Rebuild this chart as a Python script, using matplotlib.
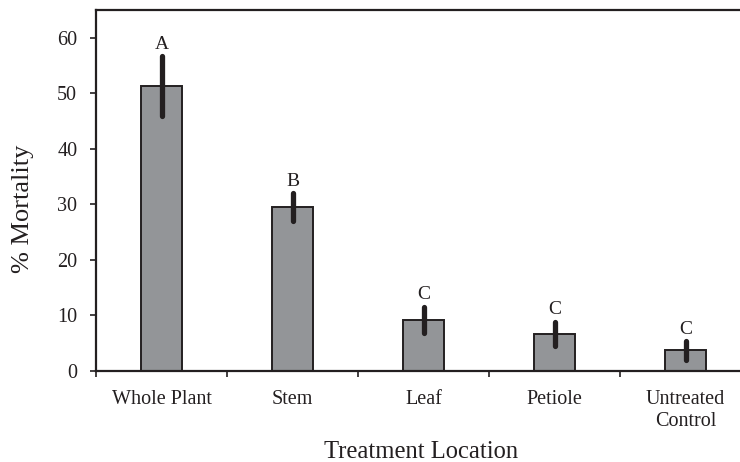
import matplotlib
matplotlib.use("Agg")
import matplotlib.pyplot as plt
import numpy as np

categories = ["Whole Plant", "Stem", "Leaf", "Petiole", "Untreated\nControl"]
mortality = [51.3, 29.5, 9.2, 6.7, 3.7]
errors = [5.4, 2.5, 2.4, 2.2, 1.7]
letters = ["A", "B", "C", "C", "C"]

plt.rcParams['font.family'] = ['Liberation Serif', 'DejaVu Serif']

fig = plt.figure(figsize=(7.4, 4.62), dpi=100)
W, H = 740, 462
left, right, top, bottom = 96, 740, 10, 371
ax = fig.add_axes([left / W, 1 - bottom / H, (right - left) / W, (bottom - top) / H])

x = np.arange(len(categories))
ax.bar(x, mortality, width=0.315, color="#939598", edgecolor="#231f20", linewidth=1.4, zorder=2)
eb = ax.errorbar(x, mortality, yerr=errors, fmt="none", ecolor="#231f20", elinewidth=3.8,
                 capsize=0, zorder=3)
for lc in eb[2]:
    lc.set_capstyle("round")
for xi, m, e, l in zip(x, mortality, errors, letters):
    ax.annotate(l, (xi, m + e), xytext=(0, 8.5), textcoords="offset points",
                ha="center", va="center", fontsize=14, color="#231f20")

cat_w = 131.0
ax.set_xlim(-0.5, -0.5 + (right - left) / cat_w)
ax.set_ylim(0, 65)
ax.set_yticks([0, 10, 20, 30, 40, 50, 60])
ax.set_xticks(x)
ax.set_xticklabels(categories, fontsize=14.5, color="#231f20", linespacing=1.15)
ax.tick_params(axis="x", length=0, pad=14)
ax.set_xticks(np.arange(len(categories)) - 0.5, minor=True)
ax.tick_params(axis="x", which="minor", length=4.5, width=1.2, color="#231f20")
ax.tick_params(axis="y", length=4.5, width=1.2, color="#231f20", labelsize=14.5,
               labelcolor="#231f20", pad=9)

for s in ["left", "bottom", "top"]:
    ax.spines[s].set_linewidth(1.6)
    ax.spines[s].set_color("#231f20")
ax.spines["right"].set_visible(False)

ax.set_ylabel("% Mortality", fontsize=19, color="#231f20")
ax.yaxis.label.set_va("center")
ax.yaxis.set_label_coords((23 - left) / (right - left), (bottom - 209) / (bottom - top))
ax.set_xlabel("Treatment Location", fontsize=17.7, color="#231f20")
ax.xaxis.label.set_va("baseline")
ax.xaxis.set_label_coords((421.5 - left) / (right - left), (bottom - 458) / (bottom - top))

fig.savefig("out.png", dpi=100)
